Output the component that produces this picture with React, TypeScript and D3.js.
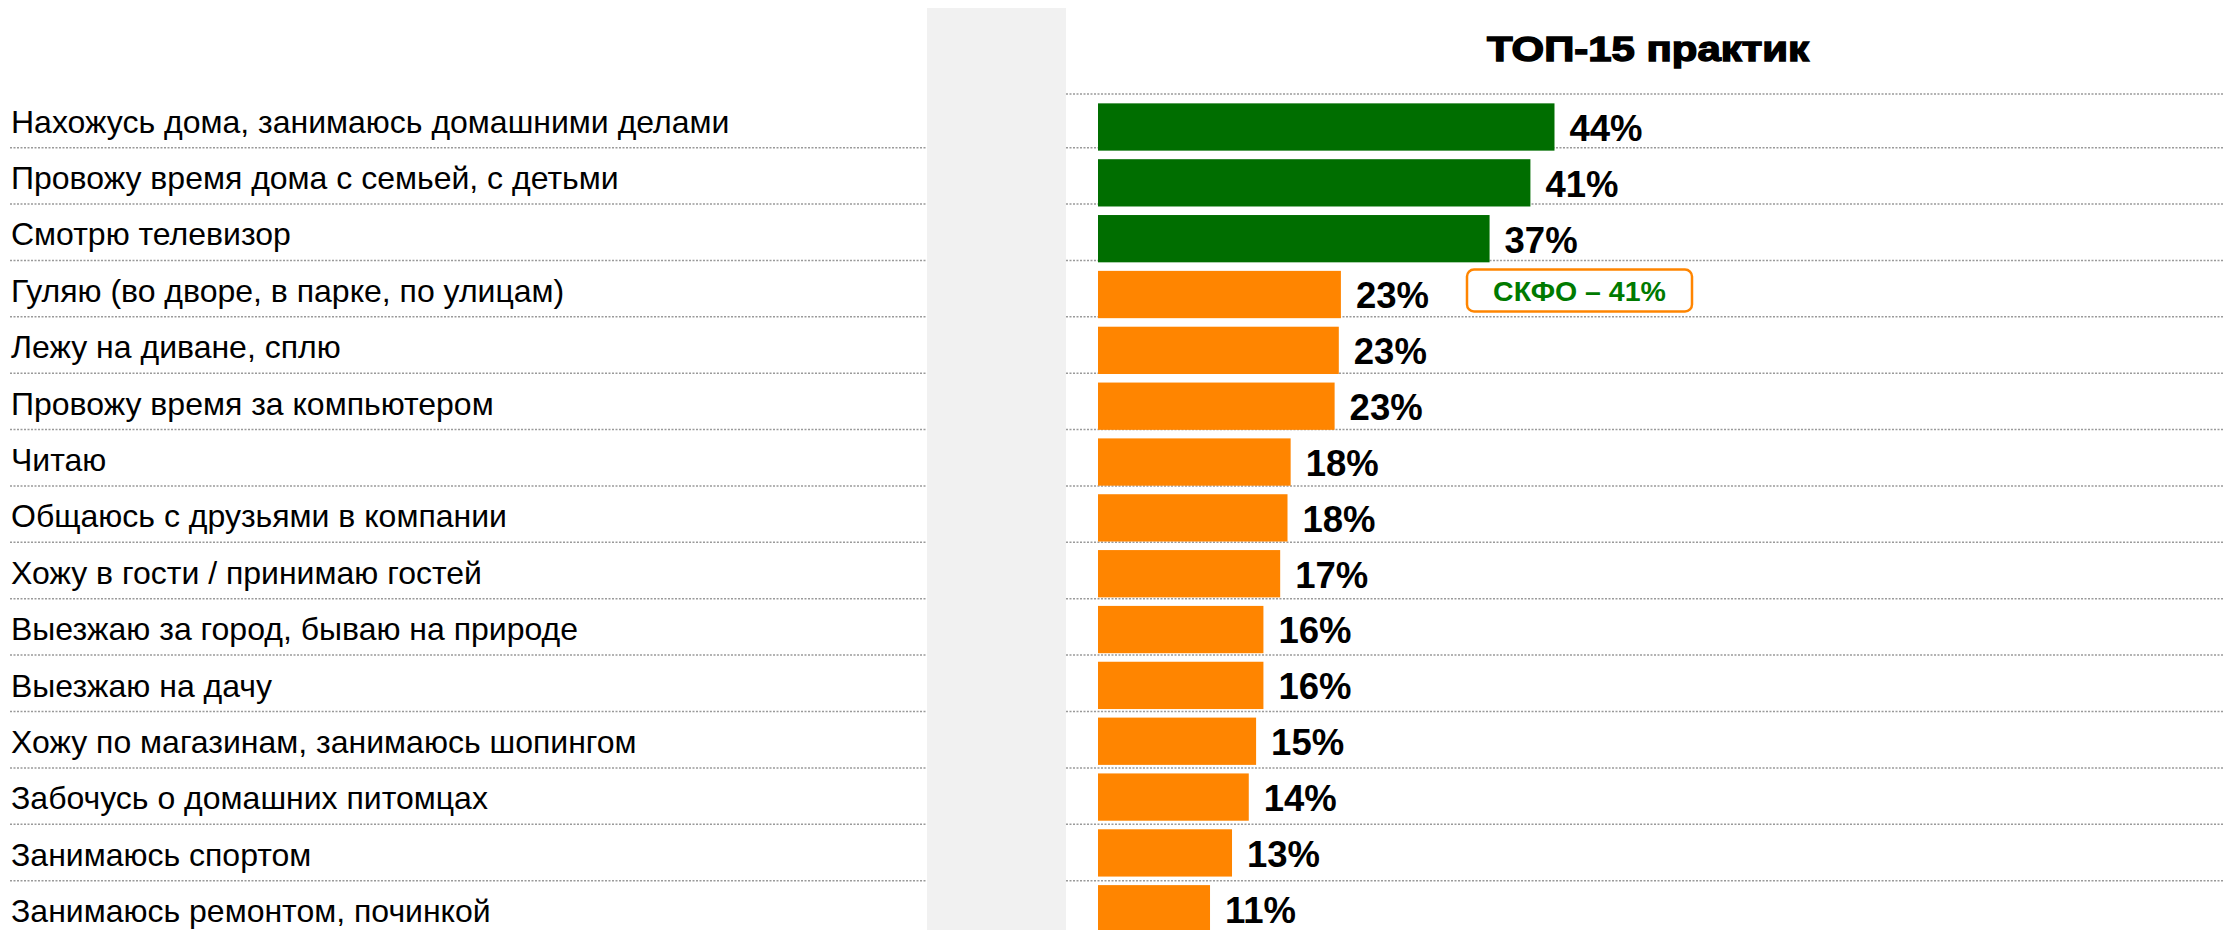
import React from "react";
import * as d3 from "d3";

// ---- data ----
const categories: string[] = [
  "Нахожусь дома, занимаюсь домашними делами",
  "Провожу время дома с семьей, с детьми",
  "Смотрю телевизор",
  "Гуляю (во дворе, в парке, по улицам)",
  "Лежу на диване, сплю",
  "Провожу время за компьютером",
  "Читаю",
  "Общаюсь с друзьями в компании",
  "Хожу в гости / принимаю гостей",
  "Выезжаю за город, бываю на природе",
  "Выезжаю на дачу",
  "Хожу по магазинам, занимаюсь шопингом",
  "Забочусь о домашних питомцах",
  "Занимаюсь спортом",
  "Занимаюсь ремонтом, починкой",
];
const values: number[] = [43.6, 41.3, 37.4, 23.2, 23.0, 22.6, 18.4, 18.1, 17.4, 15.8, 15.8, 15.1, 14.4, 12.8, 10.7];
const topCount = 3;
const chartTitle = "ТОП-15 практик";
const noteRow = 3;
const noteText = "СКФО – 41%";

// ---- style ----
const W = 2224;
const H = 930;
const FONT = "'Liberation Sans', Arial, sans-serif";
const GREEN = "#006e00";
const ORANGE = "#ff8500";
const NOTE_GREEN = "#007a00";
const PANEL = "#f1f1f1";
const DOT = "#9a9a9a";

export default function App() {
  const barStep = 55.84;
  const y = d3
    .scaleBand<string>()
    .domain(categories)
    .range([127 - barStep / 2, 127 - barStep / 2 + barStep * categories.length])
    .paddingInner(0.153)
    .paddingOuter(0.0765);

  const rowStep = 56.38;
  const rows = d3
    .scaleBand<string>()
    .domain(categories)
    .range([147.7 - rowStep, 147.7 - rowStep + rowStep * categories.length]);

  const x = d3.scaleLinear().domain([0, 100]).range([1098, 1098 + 1047]);
  const fmt = (v: number) => `${Math.round(v)}%`;

  const panelX0 = 927;
  const panelX1 = 1066;
  const labelSize = 36.5;

  return (
    <svg
      width={W}
      height={H}
      viewBox={`0 0 ${W} ${H}`}
      style={{ position: "absolute", left: 0, top: 0, background: "#fff" }}
      fontFamily={FONT}
    >
      <rect x={0} y={0} width={W} height={H} fill="#fff" />
      {/* grey separator panel */}
      <rect x={panelX0} y={8} width={panelX1 - panelX0} height={H - 8} fill={PANEL} />

      {/* title */}
      <text
        x={1648}
        y={61}
        textAnchor="middle"
        fontSize={35}
        fontWeight="bold"
        stroke="#000"
        strokeWidth={1.4}
        textLength={322}
        lengthAdjust="spacingAndGlyphs"
        fill="#000"
      >
        {chartTitle}
      </text>

      {/* top dotted line on the right side */}
      <line x1={panelX1} x2={W} y1={94} y2={94} stroke={DOT} strokeWidth={1.5} strokeDasharray="2 1.5" />

      {/* row separators */}
      {categories.map((c) => {
        const ly = (rows(c) as number) + rows.step();
        return (
          <g key={"l" + c}>
            <line x1={10} x2={panelX0} y1={ly} y2={ly} stroke={DOT} strokeWidth={1.5} strokeDasharray="2 1.5" />
            <line x1={panelX1} x2={W} y1={ly} y2={ly} stroke={DOT} strokeWidth={1.5} strokeDasharray="2 1.5" />
          </g>
        );
      })}

      {/* category labels */}
      {categories.map((c) => (
        <text key={"t" + c} x={11} y={(rows(c) as number) + rows.step() - 15} fontSize={32} fill="#000">
          {c}
        </text>
      ))}

      {/* bars */}
      {categories.map((c, i) => (
        <rect
          key={"b" + c}
          x={x(0)}
          y={y(c) as number}
          width={x(values[i]) - x(0)}
          height={y.bandwidth()}
          fill={i < topCount ? GREEN : ORANGE}
        />
      ))}

      {/* value labels */}
      {categories.map((c, i) => (
        <text
          key={"v" + c}
          x={x(values[i]) + 15}
          y={(y(c) as number) + y.bandwidth() / 2 + labelSize * 0.38}
          fontSize={labelSize}
          fontWeight="bold"
          fill="#000"
        >
          {fmt(values[i])}
        </text>
      ))}

      {/* note box */}
      {(() => {
        const c = categories[noteRow];
        const cy = (y(c) as number) + y.bandwidth() / 2 - 4;
        const bx = 1467;
        const bw = 225;
        const bh = 42;
        return (
          <g>
            <rect x={bx} y={cy - bh / 2} width={bw} height={bh} rx={7} ry={7} fill="#fff" stroke={ORANGE} strokeWidth={2.5} />
            <text x={bx + bw / 2} y={cy + 10.4} textAnchor="middle" fontSize={28.5} fontWeight="bold" fill={NOTE_GREEN}>
              {noteText}
            </text>
          </g>
        );
      })()}
    </svg>
  );
}
